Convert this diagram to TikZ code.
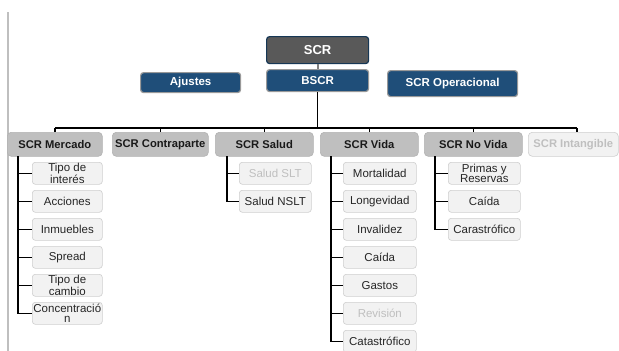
\documentclass[tikz,border=0pt]{standalone}
\usepackage{fontspec}
\setmainfont{Liberation Sans}
\begin{document}
\begin{tikzpicture}[x={(1pt,0)},y={(0,-1pt)},
  topbox/.style={draw=#1, line width=1.2pt, rounded corners=3pt, text=white, font=\fontsize{11.5}{12}\selectfont\bfseries, inner sep=0pt, anchor=north west},
  hdr/.style={draw=gray!60, fill=hdrgray, rounded corners=4pt, line width=0.6pt, font=\fontsize{11.2}{12}\selectfont\bfseries, text=black!90, inner sep=0pt, minimum height=24pt, anchor=north west},
  sub/.style={draw=subborder, fill=subfill, rounded corners=3pt, line width=0.6pt, font=\fontsize{11.5}{10.5}\selectfont, text=black!85, align=center, inner sep=0pt, minimum height=22pt, anchor=north west},
  faded/.style={text=fadetext},
  conn/.style={line width=1.4pt, black},
]
\definecolor{scrdark}{HTML}{595959}
\definecolor{navy}{HTML}{1F4E79}
\definecolor{hdrgray}{HTML}{BFBFBF}
\definecolor{subfill}{HTML}{F2F2F2}
\definecolor{subborder}{HTML}{CFCFCF}
\definecolor{fadetext}{HTML}{BFBFBF}
\useasboundingbox (0,0) rectangle (619,351);
\fill[white] (0,0) rectangle (619,351);
% left rule
\draw[line width=1.5pt, color=black!25] (8,12) -- (8,351);

% top boxes
\node[topbox={black!30!navy}, fill=scrdark, minimum width=102pt, minimum height=27pt, font=\fontsize{13}{14}\selectfont\bfseries] (scr) at (266,36) {SCR};
\node[topbox={gray!80}, fill=navy, minimum width=102pt, minimum height=22pt] (bscr) at (266,69) {BSCR};
\node[topbox={gray!80}, fill=navy, minimum width=100pt, minimum height=20pt] (ajustes) at (140,72) {Ajustes};
\node[topbox={gray!80}, fill=navy, minimum width=130pt, minimum height=26pt] (oper) at (387,70) {SCR Operacional};
\draw[line width=2pt, gray] (scr.south) -- (bscr.north);

% headers
\node[hdr, minimum width=95pt] (merc) at (7,132) {SCR Mercado};
\node[hdr, minimum width=96pt] (contra) at (112,132) {SCR Contraparte};
\node[hdr, minimum width=98pt] (salud) at (215,132) {SCR Salud};
\node[hdr, minimum width=98pt] (vida) at (320,132) {SCR Vida};
\node[hdr, minimum width=98pt] (novida) at (424,132) {SCR No Vida};
\node[hdr, minimum width=90pt, fill=subfill, draw=subborder, text=fadetext] (intang) at (528,132) {SCR Intangible};

% bus
\coordinate (busL) at (55,128);
\coordinate (busR) at (577,128);
\draw[conn] (busL) -- (busR);
\draw[conn] (bscr.south) -- (bscr.south |- busL);
\foreach \h in {merc,contra,salud,vida,novida} \draw[conn] (\h.north) -- (\h.north |- busL);
\draw[conn] (busR) -- (577,132);

% Mercado items
\node[sub, minimum width=70pt] (m1) at (32,162) {Tipo de\\interés};
\node[sub, minimum width=70pt] (m2) at (32,190) {Acciones};
\node[sub, minimum width=70pt] (m3) at (32,218) {Inmuebles};
\node[sub, minimum width=70pt] (m4) at (32,246) {Spread};
\node[sub, minimum width=70pt] (m5) at (32,274) {Tipo de\\cambio};
\node[sub, minimum width=70pt] (m6) at (32,302) {Concentració\\n};
\coordinate (mv) at (18,156);
\foreach \i in {1,...,6} \draw[conn] (mv) |- (m\i.west);

% Salud items
\node[sub, minimum width=72pt, faded] (s1) at (239,162) {Salud SLT};
\node[sub, minimum width=72pt] (s2) at (239,190) {Salud NSLT};
\coordinate (sv) at (227,156);
\foreach \i in {1,2} \draw[conn] (sv) |- (s\i.west);

% Vida items
\node[sub, minimum width=73pt] (v1) at (343,162) {Mortalidad};
\node[sub, minimum width=73pt] (v2) at (343,190) {Longevidad};
\node[sub, minimum width=73pt] (v3) at (343,218) {Invalidez};
\node[sub, minimum width=73pt] (v4) at (343,246) {Caída};
\node[sub, minimum width=73pt] (v5) at (343,274) {Gastos};
\node[sub, minimum width=73pt, faded] (v6) at (343,302) {Revisión};
\node[sub, minimum width=73pt] (v7) at (343,330) {Catastrófico};
\coordinate (vv) at (331,156);
\foreach \i in {1,...,7} \draw[conn] (vv) |- (v\i.west);

% No Vida items
\node[sub, minimum width=72pt] (n1) at (448,162) {Primas y\\Reservas};
\node[sub, minimum width=72pt] (n2) at (448,190) {Caída};
\node[sub, minimum width=72pt] (n3) at (448,218) {Carastrófico};
\coordinate (nv) at (435,156);
\foreach \i in {1,2,3} \draw[conn] (nv) |- (n\i.west);
\end{tikzpicture}
\end{document}
